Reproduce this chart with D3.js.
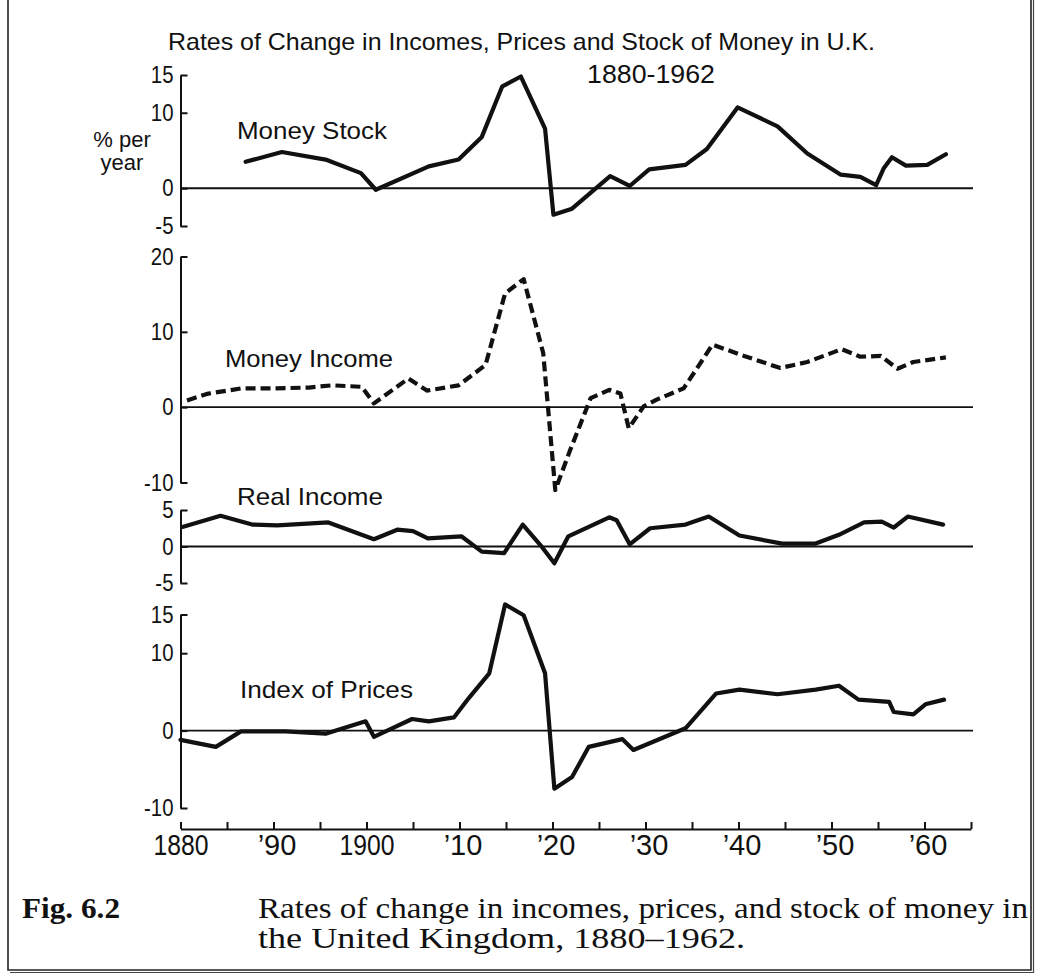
<!DOCTYPE html>
<html><head><meta charset="utf-8">
<script src="https://cdn.jsdelivr.net/npm/d3@7"></script>
<style>body{margin:0;background:#fff}svg{display:block}</style>
</head><body>
<svg id="c" width="1038" height="977"></svg>
<script>
// ---- data ----
const msYears  = [1887.0,1890.9,1895.6,1899.4,1901.0,1906.7,1909.9,1912.4,1914.6,1916.6,1919.2,1920.1,1922.1,1926.2,1928.3,1930.4,1934.3,1936.6,1939.9,1944.2,1947.4,1951.0,1953.1,1954.8,1955.6,1956.5,1958.0,1960.3,1962.3];
const msValues = [3.5,4.8,3.8,2.0,-0.2,2.9,3.8,6.8,13.5,14.8,7.9,-3.5,-2.7,1.6,0.3,2.5,3.1,5.2,10.7,8.2,4.6,1.8,1.5,0.4,2.6,4.1,3.0,3.1,4.5];

const miYears  = [1880.7,1883.0,1886.6,1890.2,1893.8,1896.3,1899.5,1900.8,1904.5,1906.5,1909.9,1912.8,1914.9,1916.9,1919.0,1920.3,1921.9,1924.1,1926.1,1927.3,1928.2,1929.8,1931.2,1934.1,1935.4,1937.2,1940.6,1944.5,1947.4,1951.1,1953.1,1955.3,1957.1,1958.8,1962.3];
const miValues = [0.9,1.8,2.5,2.5,2.6,2.9,2.7,0.5,3.8,2.2,2.9,5.6,15.1,17.0,7.2,-11.0,-5.7,1.2,2.3,1.8,-2.8,0.1,1.0,2.5,4.9,8.3,6.8,5.2,6.0,7.7,6.7,6.8,5.1,6.0,6.6];

const riYears  = [1880.3,1884.3,1887.7,1890.4,1895.9,1900.8,1903.3,1905.0,1906.6,1910.2,1912.4,1914.8,1916.8,1918.7,1920.2,1921.7,1926.1,1926.9,1928.3,1930.5,1934.3,1936.8,1940.1,1944.7,1948.3,1950.8,1953.5,1955.4,1956.7,1958.2,1962.0];
const riValues = [2.7,4.2,3.0,2.9,3.3,1.0,2.3,2.1,1.1,1.4,-0.7,-0.9,3.0,0.2,-2.3,1.4,4.0,3.6,0.3,2.5,3.0,4.1,1.5,0.4,0.4,1.6,3.3,3.4,2.6,4.1,3.0];

const prYears  = [1880.0,1883.8,1886.5,1891.3,1895.6,1899.9,1900.8,1902.4,1904.9,1906.7,1909.4,1911.0,1913.2,1914.9,1916.9,1919.2,1920.2,1922.1,1923.9,1927.5,1928.7,1934.3,1937.6,1940.1,1944.2,1948.3,1950.8,1952.9,1956.2,1956.7,1958.8,1960.1,1962.1];
const prValues = [-1.2,-2.1,-0.1,-0.1,-0.4,1.2,-0.8,0.1,1.5,1.2,1.7,4.2,7.4,16.3,14.9,7.4,-7.5,-6.0,-2.1,-1.1,-2.5,0.3,4.8,5.3,4.7,5.3,5.8,4.0,3.7,2.4,2.1,3.4,4.0];

const msTicks = [-5,0,10,15];
const miTicks = [-10,0,10,20];
const riTicks = [-5,0,5];
const prTicks = [-10,0,10,15];

const xTickYears  = [1880,1890,1900,1910,1920,1930,1940,1950,1960];
const xTickLabels = ["1880","\u201990","1900","\u201910","\u201920","\u201930","\u201940","\u201950","\u201960"];

const seriesNames = ["Money Stock","Money Income","Real Income","Index of Prices"];
const titleText = "Rates of Change in Incomes, Prices and Stock of Money in U.K.";
const subtitleText = "1880-1962";
const yUnitLines = ["% per","year"];
const figLabel = "Fig. 6.2";
const captionLines = ["Rates of change in incomes, prices, and stock of money in","the United Kingdom, 1880\u20131962."];

// ---- drawing ----
const svg = d3.select("#c");
const ink = "#111";
const sans = "'Liberation Sans', Arial, sans-serif";
const serif = "'Liberation Serif', 'Times New Roman', serif";

// border
svg.append("path").attr("d","M8,-5 V970 H1031 V-5").attr("fill","none").attr("stroke","#222").attr("stroke-width",1.6);
svg.append("path").attr("d","M10,972.5 H1033.5 V-5").attr("fill","none").attr("stroke","#444").attr("stroke-width",1.2);

const x = d3.scaleLinear().domain([1880,1965]).range([180.5,971]);

const panels = [
  {years:msYears, values:msValues, ticks:msTicks, domain:[-5,15], range:[226,75], dashed:false},
  {years:miYears, values:miValues, ticks:miTicks, domain:[-10,20], range:[482.5,256.5], dashed:true},
  {years:riYears, values:riValues, ticks:riTicks, domain:[-5,5], range:[583,510], dashed:false},
  {years:prYears, values:prValues, ticks:prTicks, domain:[-10,15], range:[808,614.5], dashed:false}
];

function condense(sel, f){
  sel.each(function(){
    const w = this.getComputedTextLength();
    d3.select(this).attr("textLength", w*f).attr("lengthAdjust","spacingAndGlyphs");
  });
}

panels.forEach(p => {
  const y = d3.scaleLinear().domain(p.domain).range(p.range);
  svg.append("line").attr("x1",x(1880)).attr("x2",973).attr("y1",y(0)).attr("y2",y(0))
     .attr("stroke",ink).attr("stroke-width",1.8);
  const ax = svg.append("g").attr("transform",`translate(${x(1880)},0)`)
    .call(d3.axisLeft(y).tickValues(p.ticks).tickSizeInner(-7).tickSizeOuter(0).tickPadding(7).tickFormat(d=>String(d)));
  ax.select(".domain").attr("stroke",ink).attr("stroke-width",2);
  ax.selectAll(".tick line").attr("stroke",ink).attr("stroke-width",2);
  const tt = ax.selectAll(".tick text").attr("font-family",sans).attr("font-size",24).attr("fill",ink);
  condense(tt, 0.85);
  const line = d3.line().x((d,i)=>x(p.years[i])).y(d=>y(d));
  svg.append("path").datum(p.values).attr("d",line).attr("fill","none")
     .attr("stroke",ink).attr("stroke-width",4.2).attr("stroke-linejoin","round")
     .attr("stroke-linecap", p.dashed ? "butt" : "round")
     .attr("stroke-dasharray", p.dashed ? "10,5" : null);
});

// x axis
const labelMap = {};
xTickYears.forEach((yr,i)=>labelMap[yr]=xTickLabels[i]);
const xa = svg.append("g").attr("transform","translate(0,829)")
  .call(d3.axisBottom(x).tickValues(d3.range(1880,1966,5)).tickSizeInner(-7).tickSizeOuter(0).tickPadding(5)
        .tickFormat(d=>labelMap[d]||""));
xa.select(".domain").attr("stroke",ink).attr("stroke-width",2);
xa.selectAll(".tick line").attr("stroke",ink).attr("stroke-width",2);
xa.selectAll(".tick text").attr("font-family",sans).attr("font-size",29).attr("fill",ink)
  .each(function(d){
    const t = d3.select(this);
    if (String(labelMap[d]||"").length === 4) t.attr("textLength",55).attr("lengthAdjust","spacingAndGlyphs");
    else t.attr("dx",3);
  });

// titles
svg.append("text").attr("x",168).attr("y",50).attr("font-family",sans).attr("font-size",24).attr("fill",ink)
  .attr("textLength",707).attr("lengthAdjust","spacingAndGlyphs").text(titleText);
svg.append("text").attr("x",587).attr("y",83).attr("font-family",sans).attr("font-size",25).attr("fill",ink)
  .attr("textLength",128).attr("lengthAdjust","spacingAndGlyphs").text(subtitleText);

// unit label
yUnitLines.forEach((s,i)=>{
  svg.append("text").attr("x",122).attr("y",147+i*23).attr("text-anchor","middle")
    .attr("font-family",sans).attr("font-size",22).attr("fill",ink).text(s);
});

// series labels
const seriesLabelPos = [[237,138.5,150],[225,366.5,168],[237,505,146],[240,697.5,173]];
seriesNames.forEach((s,i)=>{
  const [lx,ly,lw] = seriesLabelPos[i];
  svg.append("text").attr("x",lx).attr("y",ly).attr("font-family",sans).attr("font-size",24).attr("fill",ink)
    .attr("textLength",lw).attr("lengthAdjust","spacingAndGlyphs").text(s);
});

// caption
svg.append("text").attr("x",22).attr("y",918).attr("font-family",serif).attr("font-weight","bold")
  .attr("font-size",29).attr("fill",ink).attr("textLength",98).attr("lengthAdjust","spacingAndGlyphs").text(figLabel);
const capW = [770, 487];
captionLines.forEach((s,i)=>{
  svg.append("text").attr("x",258).attr("y",918+i*30).attr("font-family",serif)
    .attr("font-size",29).attr("fill",ink).attr("textLength",capW[i]).attr("lengthAdjust","spacingAndGlyphs").text(s);
});
</script>
</body></html>
